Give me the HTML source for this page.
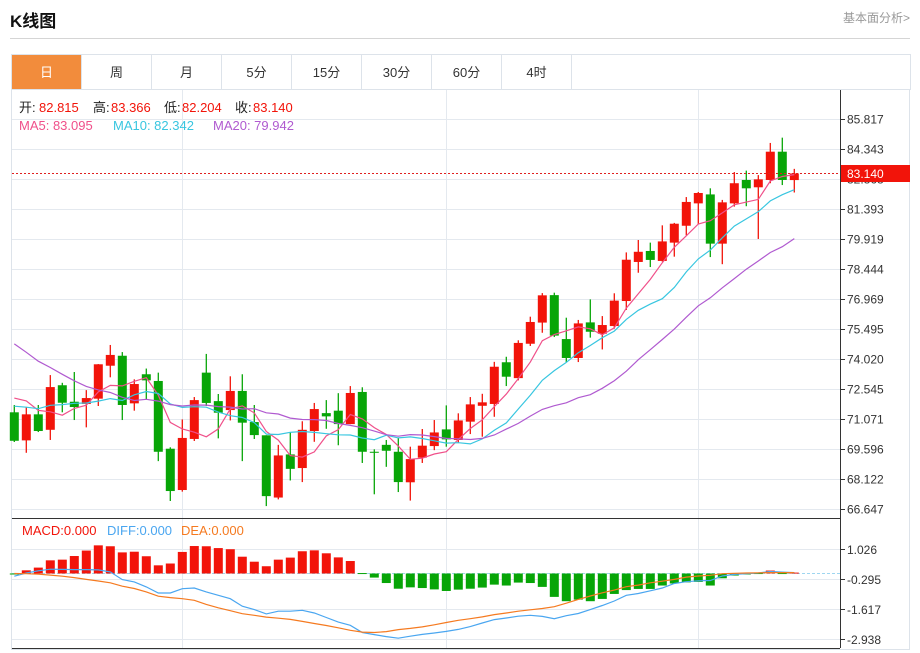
<!DOCTYPE html>
<html><head><meta charset="utf-8"><style>
body{margin:0;width:920px;height:653px;background:#fff;font-family:"Liberation Sans","Noto Sans CJK SC",sans-serif;position:relative;overflow:hidden}
.title{position:absolute;left:10px;top:7px;font-size:17px;font-weight:bold;color:#111}
.more{position:absolute;right:10px;top:9px;font-size:12px;color:#999}
.hline{position:absolute;left:10px;top:38px;width:900px;height:1px;background:#d5d5d5}
.tabs{position:absolute;left:11px;top:54px;width:898px;height:35px;border:1px solid #dde3ea;border-bottom:none;display:flex}
.tab{width:69px;border-right:1px solid #dde3ea;text-align:center;line-height:35px;font-size:13px;color:#333}
.tab.on{background:#f28c3c;color:#fff}
svg{position:absolute;left:0;top:0}
</style></head><body>
<div class="title">K线图</div>
<div class="more">基本面分析&gt;</div>
<div class="hline"></div>
<div class="tabs">
<div class="tab on">日</div>
<div class="tab">周</div>
<div class="tab">月</div>
<div class="tab">5分</div>
<div class="tab">15分</div>
<div class="tab">30分</div>
<div class="tab">60分</div>
<div class="tab">4时</div>
</div>
<svg id="chart" width="920" height="653"></svg>
<script>
const opens=[71.40,70.02,71.30,70.54,72.73,71.92,71.81,72.07,73.69,74.18,71.84,73.27,72.94,69.61,67.58,70.09,73.35,71.95,71.51,72.45,70.92,70.27,67.21,69.33,68.66,70.48,71.36,71.48,70.82,72.40,69.46,69.80,69.46,67.96,69.17,69.74,70.56,70.04,70.94,71.72,71.81,73.86,73.08,74.77,75.81,77.16,75.00,74.07,75.82,75.26,75.64,76.87,78.79,79.33,78.84,79.74,80.57,81.67,82.11,79.69,81.67,82.82,82.46,82.82,84.21,82.815];
const closes=[70.00,71.30,70.48,72.64,71.87,71.66,72.10,73.76,74.22,71.76,72.79,72.97,69.46,67.53,70.14,72.00,71.86,71.38,72.45,70.89,70.28,67.28,69.28,68.62,70.54,71.56,71.20,70.82,72.35,69.46,69.41,69.51,67.97,69.10,69.76,70.41,70.07,71.00,71.79,71.89,73.64,73.15,74.81,75.84,77.15,75.17,74.07,75.77,75.36,75.69,76.89,78.90,79.29,78.89,79.80,80.67,81.74,82.18,79.69,81.72,82.66,82.41,82.85,84.21,82.82,83.14];
const highs=[71.76,71.66,71.76,73.23,72.85,73.38,72.49,73.77,74.71,74.36,73.02,73.55,73.35,69.68,71.05,72.15,74.27,72.30,73.17,73.27,71.76,70.27,69.80,70.43,70.96,71.86,72.00,72.34,72.69,72.63,69.58,70.04,70.14,69.71,70.58,71.02,71.74,71.35,72.15,72.31,73.88,74.13,74.94,76.10,77.26,77.28,76.05,75.94,76.95,76.13,77.25,79.26,79.87,79.74,80.59,80.71,81.98,82.23,82.41,81.84,83.21,83.28,83.06,84.64,84.90,83.366];
const lows=[69.94,69.41,70.43,70.04,71.40,71.02,70.66,71.71,73.12,71.02,71.48,72.04,69.00,67.04,67.50,69.99,71.71,70.12,71.00,69.00,70.09,66.79,67.12,68.05,67.97,69.95,70.59,69.78,70.82,68.91,67.37,68.72,67.48,67.06,68.91,69.54,69.71,69.90,70.33,70.20,71.18,72.69,72.97,74.66,75.31,75.10,73.87,73.87,75.07,74.49,75.51,76.43,78.26,78.54,78.81,79.05,80.10,80.65,79.03,78.68,81.51,81.53,79.92,82.66,82.57,82.204];
const priorCloses=[79.5,79.2,78.9,78.5,78.1,77.6,77.2,76.8,76.4,76.0,71.8,71.2,71.0,71.5,71.0,72.0,72.8,73.0,72.7];
const macdHist=[-0.05,0.10,0.22,0.54,0.57,0.73,0.97,1.20,1.16,0.89,0.92,0.72,0.32,0.40,0.91,1.17,1.16,1.08,1.03,0.70,0.48,0.28,0.57,0.66,0.94,0.98,0.85,0.67,0.51,-0.02,-0.22,-0.46,-0.71,-0.65,-0.68,-0.74,-0.81,-0.75,-0.71,-0.66,-0.53,-0.57,-0.44,-0.46,-0.63,-1.07,-1.26,-1.19,-1.26,-1.16,-0.94,-0.77,-0.72,-0.72,-0.57,-0.48,-0.43,-0.41,-0.57,-0.25,-0.13,-0.07,-0.02,0.09,-0.02,0.00];
const diffs=[-0.16,-0.02,0.08,0.15,0.14,0.13,0.13,0.12,0.03,-0.31,-0.41,-0.63,-0.90,-0.90,-0.71,-0.68,-0.85,-1.00,-1.15,-1.48,-1.63,-1.82,-1.70,-1.70,-1.66,-1.78,-1.98,-2.18,-2.32,-2.64,-2.73,-2.82,-2.89,-2.80,-2.72,-2.66,-2.59,-2.50,-2.38,-2.22,-2.07,-2.00,-1.92,-1.88,-1.93,-2.03,-1.90,-1.80,-1.63,-1.45,-1.25,-1.00,-0.92,-0.80,-0.68,-0.48,-0.40,-0.36,-0.35,-0.15,-0.08,-0.05,-0.02,0.05,0.02,0.00];
const deas=[-0.04,-0.05,-0.07,-0.11,-0.16,-0.22,-0.30,-0.37,-0.45,-0.60,-0.70,-0.85,-1.04,-1.10,-1.15,-1.22,-1.40,-1.55,-1.68,-1.81,-1.88,-1.96,-2.01,-2.06,-2.15,-2.24,-2.33,-2.43,-2.54,-2.62,-2.64,-2.60,-2.51,-2.46,-2.39,-2.30,-2.20,-2.10,-2.03,-1.95,-1.85,-1.78,-1.70,-1.64,-1.58,-1.50,-1.35,-1.18,-1.03,-0.89,-0.77,-0.62,-0.55,-0.45,-0.38,-0.30,-0.20,-0.15,-0.12,-0.05,-0.03,-0.02,-0.01,0.00,0.00,0.00];
const priceTicks=["85.817","84.343","82.868","81.393","79.919","78.444","76.969","75.495","74.020","72.545","71.071","69.596","68.122","66.647"];
const macdTicks=["1.026","-0.295","-1.617","-2.938"];
const maLegendValues=["83.095","82.342","79.942"];

const NS="http://www.w3.org/2000/svg";
const svg=document.getElementById('chart');
function mk(tag,attrs,parent){const e=document.createElementNS(NS,tag);for(const k in attrs)e.setAttribute(k,attrs[k]);(parent||svg).appendChild(e);return e;}
const L=12,R=840,PT=90,PB=518,MB=648;
const pMax=85.817,pMin=66.647,pyTop=119,pyBot=509;
function yP(p){return pyTop+(pMax-p)*(pyBot-pyTop)/(pMax-pMin);}
const mMax=1.026,mMin=-2.938,myTop=549.3,myBot=639.3;
function yM(v){return myTop+(mMax-v)*(myBot-myTop)/(mMax-mMin);}
function xC(i){return 14.3+i*12;}

let fr=mk('rect',{x:11.5,y:89.5,width:898,height:560,fill:'none',stroke:'#dde3ea'});

const grid=mk('g',{stroke:'#e4e9ef','stroke-width':1});

priceTicks.forEach(t=>{const y=Math.round(yP(parseFloat(t)))+0.5;mk('line',{x1:L,x2:R,y1:y,y2:y},grid);});
macdTicks.forEach(t=>{const y=Math.round(yM(parseFloat(t)))+0.5;mk('line',{x1:L,x2:R,y1:y,y2:y},grid);});
[182.5,446.5,698.5].forEach(x=>{mk('line',{x1:x,x2:x,y1:PT,y2:MB},grid);});
let ax=mk('line',{x1:840.5,x2:840.5,y1:PT,y2:MB,stroke:'#333'});

let sep=mk('line',{x1:L,x2:R,y1:518.5,y2:518.5,stroke:'#333'});

let bot=mk('line',{x1:L,x2:R,y1:648.5,y2:648.5,stroke:'#333'});

priceTicks.forEach(t=>{const y=yP(parseFloat(t));
 mk('line',{x1:840,x2:845,y1:Math.round(y)+0.5,y2:Math.round(y)+0.5,stroke:'#333'});
 const tx=mk('text',{x:847,y:y+4.5,'font-size':12,fill:'#333'});tx.textContent=t;
 });
macdTicks.forEach(t=>{const y=yM(parseFloat(t));
 mk('line',{x1:840,x2:845,y1:Math.round(y)+0.5,y2:Math.round(y)+0.5,stroke:'#333'});
 const tx=mk('text',{x:847,y:y+4.5,'font-size':12,fill:'#333'});tx.textContent=t;
 });

const RED='#f2140a',GRN='#07a507';
const cg=mk('g',{});
for(let i=0;i<opens.length;i++){
 const up=closes[i]>=opens[i];const col=up?RED:GRN;const x=xC(i);
 const g=mk('g',{},cg);
 
 
 mk('line',{x1:x,x2:x,y1:yP(highs[i]),y2:yP(lows[i]),stroke:col,'stroke-width':1.3},g);
 const t=yP(Math.max(opens[i],closes[i])),b=yP(Math.min(opens[i],closes[i]));
 mk('rect',{x:x-4.5,y:t,width:9,height:Math.max(1,b-t),fill:col},g);
}
const all=priorCloses.concat(closes);
function ma(n){const out=[];for(let i=0;i<closes.length;i++){const j=i+priorCloses.length;let s=0;for(let k=j-n+1;k<=j;k++)s+=all[k];out.push(s/n);}return out;}
function line(vals,fn,col,name){let d='';vals.forEach((v,i)=>{d+=(i?'L':'M')+xC(i).toFixed(1)+' '+fn(v).toFixed(1);});
 const p=mk('path',{d:d,fill:'none',stroke:col,'stroke-width':1.2});}
line(ma(5),yP,'#f0508a','ma5-line');
line(ma(10),yP,'#38c6e0','ma10-line');
line(ma(20),yP,'#b05ad0','ma20-line');
const cy=Math.round(yP(closes[closes.length-1]))+0.5;
let cl=mk('line',{x1:L,x2:R,y1:cy,y2:cy,stroke:'#e02020','stroke-dasharray':'2,2'});

let cb=mk('rect',{x:841,y:cy-8.5,width:69,height:17,fill:RED});

let ct=mk('text',{x:847,y:cy+4.5,'font-size':12,fill:'#fff'});ct.textContent=closes[closes.length-1].toFixed(3);


const z=Math.round(yM(0))+0.5;
let zl=mk('line',{x1:L,x2:R,y1:z,y2:z,stroke:'#9fd6f0','stroke-dasharray':'3,2'});

const mg=mk('g',{});
macdHist.forEach((v,i)=>{const y=yM(v);const r=mk('rect',{x:xC(i)-4.5,y:Math.min(y,z),width:9,height:Math.max(1,Math.abs(y-z)),fill:v>=0?RED:GRN},mg);
 });
line(diffs,yM,'#4aa6f0','diff-line');
line(deas,yM,'#f57a20','dea-line');

function txt(x,y,s,col,name){const t=mk('text',{x:x,y:y,'font-size':13,fill:col});t.textContent=s;return t;}
const n=opens.length-1;
txt(19,112,'开:','#222','open-label');txt(39,112,opens[n].toFixed(3),RED,'open-value');
txt(93,112,'高:','#222','high-label');txt(111,112,highs[n].toFixed(3),RED,'high-value');
txt(164,112,'低:','#222','low-label');txt(182,112,lows[n].toFixed(3),RED,'low-value');
txt(235,112,'收:','#222','close-label');txt(253,112,closes[n].toFixed(3),RED,'close-value');
txt(19,130,'MA5: '+maLegendValues[0],'#f0508a','ma5-legend');
txt(113,130,'MA10: '+maLegendValues[1],'#38c6e0','ma10-legend');
txt(213,130,'MA20: '+maLegendValues[2],'#b05ad0','ma20-legend');
txt(22,535,'MACD:0.000','#f2140a','macd-legend');
txt(107,535,'DIFF:0.000','#4aa6f0','diff-legend');
txt(181,535,'DEA:0.000','#f57a20','dea-legend');
</script>
</body></html>
